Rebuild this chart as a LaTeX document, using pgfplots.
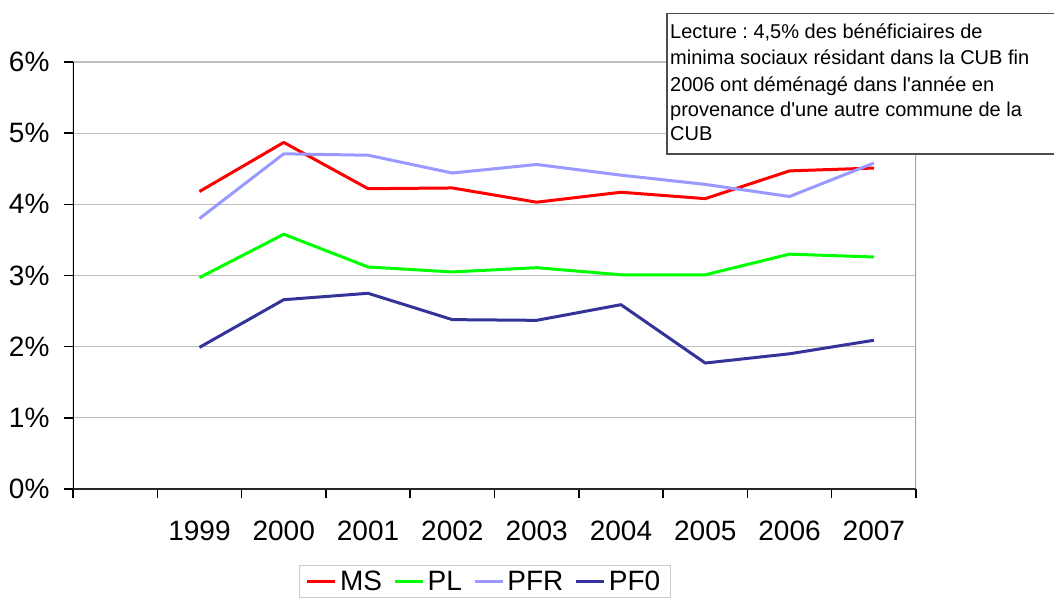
\documentclass[border=0pt]{standalone}
\usepackage{fontspec}
\setmainfont{Liberation Sans}[Ligatures=TeXOff]
\usepackage{pgfplots}
\pgfplotsset{compat=1.18}
\definecolor{cMS}{HTML}{FF0000}
\definecolor{cPL}{HTML}{00FF00}
\definecolor{cPFR}{HTML}{9999FF}
\definecolor{cPF0}{HTML}{333399}
\frenchspacing
\begin{document}
\begin{tikzpicture}
\useasboundingbox (-73pt,-110pt) rectangle (981pt,489pt);
\clip (-73pt,-110pt) rectangle (981pt,489pt);
\begin{axis}[
  scale only axis, width=843pt, height=427pt,
  at={(0pt,0pt)}, anchor=south west,
  xmin=-0.5, xmax=9.5, ymin=0, ymax=6,
  axis line style={draw=none},
  tick pos=left, tick align=outside,
  major tick length=9pt,
  tick style={black, line width=1.5pt},
  xtick={-0.5,0.5,...,9.5}, xticklabels={},
  extra x ticks={1,2,3,4,5,6,7,8,9},
  extra x tick labels={1999,2000,2001,2002,2003,2004,2005,2006,2007},
  extra x tick style={major tick length=0pt, xticklabel style={yshift=-28pt}},
  ytick={0,1,2,3,4,5,6},
  yticklabels={0\%,1\%,2\%,3\%,4\%,5\%,6\%},
  yticklabel style={xshift=-11pt},
  ymajorgrids, grid style={draw=gray!50, line width=1.3pt},
  ticklabel style={font=\fontsize{28}{30}\selectfont},
  legend columns=4,
  legend style={at={(0.4887,-0.178)}, anchor=north, draw=gray!40, line width=1.2pt,
    inner xsep=7pt,
    font=\fontsize{28}{30}\selectfont, nodes={inner sep=3.5pt},
    /tikz/every even column/.append style={column sep=8pt}},
  legend image code/.code={\draw[#1, line width=2.5pt] (0pt,0pt) -- (28pt,0pt);},
  every axis plot/.append style={line width=3pt, line join=round},
]
\addplot[cMS] coordinates {(1,4.18) (2,4.87) (3,4.22) (4,4.23) (5,4.03) (6,4.17) (7,4.08) (8,4.47) (9,4.51)};
\addlegendentry{MS}
\addplot[cPL] coordinates {(1,2.97) (2,3.58) (3,3.12) (4,3.05) (5,3.11) (6,3.01) (7,3.01) (8,3.30) (9,3.26)};
\addlegendentry{PL}
\addplot[cPFR] coordinates {(1,3.80) (2,4.71) (3,4.69) (4,4.44) (5,4.56) (6,4.41) (7,4.28) (8,4.11) (9,4.58)};
\addlegendentry{PFR}
\addplot[cPF0] coordinates {(1,1.99) (2,2.66) (3,2.75) (4,2.38) (5,2.37) (6,2.59) (7,1.77) (8,1.90) (9,2.09)};
\addlegendentry{PF0}
\draw[gray!70, line width=1.8pt] (rel axis cs:1,0) -- (rel axis cs:1,1);
\draw[black, line width=1.5pt] (rel axis cs:0,0) -- (rel axis cs:0,1);
\draw[black!85, line width=2pt] (rel axis cs:0,0) -- (rel axis cs:1,0);
\end{axis}
\draw[draw=black!70, fill=white, line width=1.2pt] (594pt,335pt) rectangle (1000pt,475.7pt);
\begin{scope}[every node/.style={anchor=base west, inner sep=0pt, font=\fontsize{20}{24}\selectfont}]
\node at (597pt,450.7pt) {Lecture : 4,5\% des bénéficiaires de};
\node at (597pt,424pt) {minima sociaux résidant dans la CUB fin};
\node at (597pt,397.3pt) {2006 ont déménagé dans l'année en};
\node at (597pt,372.5pt) {provenance d'une autre commune de la};
\node at (597pt,348.3pt) {CUB};
\end{scope}
\end{tikzpicture}
\end{document}
